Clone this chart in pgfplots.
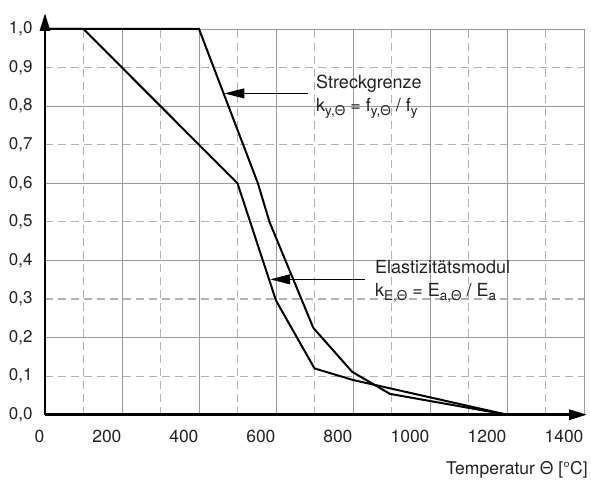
\documentclass[border=0pt]{standalone}
\usepackage{fontspec}
\setmainfont{TeX Gyre Heros}
\usepackage{pgfplots}
\pgfplotsset{compat=1.18}
\usetikzlibrary{arrows.meta}
\definecolor{gridsolid}{HTML}{9A9A9A}
\definecolor{griddash}{HTML}{B2B2B2}
\definecolor{txt}{HTML}{222222}
\newcommand\sub[1]{\raisebox{-4pt}{\fontsize{13.5}{14}\selectfont #1}}
\begin{document}
\begin{tikzpicture}
\begin{axis}[
  at={(0pt,0pt)}, anchor=south west,
  x=0.385pt, y=385.7pt,
  xmin=0, xmax=1408, ymin=0, ymax=1.0415,
  axis lines=left, axis on top=true,
  axis line style={line width=2.8pt, black, -{Triangle[length=18pt,width=10pt]}},
  major tick length=0pt, tick style={draw=none},
  xtick={0,200,400,600,800,1000,1200,1400},
  xticklabels={0,200,400,600,800,1000,1200,1400},
  ytick={0,0.1,0.2,0.3,0.4,0.5,0.6,0.7,0.8,0.9,1.0},
  yticklabels={{0,0},{0,1},{0,2},{0,3},{0,4},{0,5},{0,6},{0,7},{0,8},{0,9},{1,0}},
  xticklabel style={anchor=north east, xshift=3pt, yshift=-12pt, font=\fontsize{17.5}{20}\selectfont, text=txt},
  yticklabel style={anchor=east, xshift=-9pt, font=\fontsize{17}{20}\selectfont, text=txt},
  clip=false,
]
\pgfplotsinvokeforeach{0.1,0.3,0.5,0.7,0.9}{
  \draw[griddash, line width=1.1pt, dash pattern=on 8pt off 5pt] (axis cs:0,#1) -- (axis cs:1400,#1);}
\pgfplotsinvokeforeach{100,300,500,700,900,1100,1300}{
  \draw[griddash, line width=1.1pt, dash pattern=on 8pt off 5pt] (axis cs:#1,0) -- (axis cs:#1,1);}
\pgfplotsinvokeforeach{0.2,0.4,0.6,0.8,1.0}{
  \draw[gridsolid, line width=0.9pt] (axis cs:0,#1) -- (axis cs:1400,#1);}
\pgfplotsinvokeforeach{200,400,600,800,1000,1200,1400}{
  \draw[gridsolid, line width=0.9pt] (axis cs:#1,0) -- (axis cs:#1,1);}

% Streckgrenze k_y
\addplot[black, line width=2pt, line join=miter] coordinates {
  (0,1) (400,1) (553,0.6) (583,0.5) (697,0.225) (798,0.111) (896,0.054) (1200,0)};
% Elastizitaetsmodul k_E
\addplot[black, line width=2pt, line join=miter] coordinates {
  (0,1) (100,1) (500,0.6) (600,0.296) (700,0.12) (800,0.09) (1200,0)};

\draw[black, line width=1.1pt, -{Triangle[length=20pt,width=10pt]}] (axis cs:683,0.833) -- (axis cs:466,0.833);
\draw[black, line width=1.1pt, -{Triangle[length=20pt,width=10pt]}] (axis cs:831,0.351) -- (axis cs:585,0.351);

\node[anchor=base west, inner sep=0pt, font=\fontsize{18}{20}\selectfont, text=txt] at (axis cs:704,0.8445) {Streckgrenze};
\node[anchor=base west, inner sep=0pt, font=\fontsize{18}{20}\selectfont, text=txt] at (axis cs:704,0.7856) {k\sub{y,Θ} = f\sub{y,Θ} / f\sub{y}};
\node[anchor=base west, inner sep=0pt, font=\fontsize{18}{20}\selectfont, text=txt] at (axis cs:857,0.3648) {Elastizitätsmodul};
\node[anchor=base west, inner sep=0pt, font=\fontsize{18}{20}\selectfont, text=txt] at (axis cs:857,0.306) {k\sub{E,Θ} = E\sub{a,Θ} / E\sub{a}};
\node[anchor=base east, inner sep=0pt, font=\fontsize{17.5}{20}\selectfont, text=txt] at (axis cs:1410,-0.1538) {Temperatur Θ [°C]};
\end{axis}
\pgfresetboundingbox
\path[use as bounding box] (-45pt,-70.3pt) rectangle (546pt,414.7pt);
\end{tikzpicture}
\end{document}
